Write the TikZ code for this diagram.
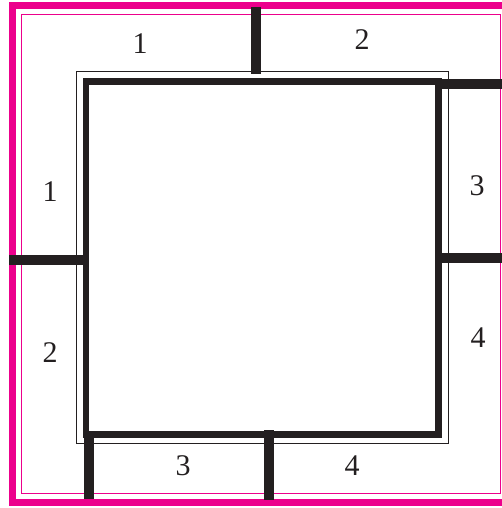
\documentclass[tikz,border=0pt]{standalone}
\usepackage{fontspec}
\setmainfont{Liberation Serif}
\definecolor{PlanMagenta}{HTML}{EC008C}
\definecolor{PlanBlack}{HTML}{231F20}

\begin{document}
\begin{tikzpicture}[x=1pt,y=-1pt]
  \tikzstyle{frame}=[draw=PlanMagenta,line width=7pt]
  \tikzstyle{border}=[draw=PlanMagenta,line width=1pt]
  \tikzstyle{outline}=[draw=PlanBlack,line width=1pt]
  \tikzstyle{wall}=[draw=PlanBlack,line width=6.7pt]
  \tikzstyle{stub}=[draw=PlanBlack,line width=10pt]
  \tikzstyle{num}=[font=\fontsize{30}{30}\selectfont,text=PlanBlack]
  \useasboundingbox (0,0) rectangle (502,508);
  \clip (0,0) rectangle (502,508);
  % frames
  \draw[frame] (12.5,5.5) rectangle (515,502.5);
  \draw[border] (21.5,15) rectangle (500,493);
  \draw[outline] (76.5,71.5) rectangle (448,443);
  \draw[wall] (86,81.3) rectangle (438.3,434.3);
  % stub ends
  \coordinate (t1) at (256,7);    \coordinate (t2) at (256,74);
  \coordinate (r1) at (436,84);   \coordinate (r2) at (502,84);
  \coordinate (m1) at (441,258);  \coordinate (m2) at (502,258);
  \coordinate (l1) at (9,260);    \coordinate (l2) at (83,260);
  \coordinate (b1) at (89,433);   \coordinate (b2) at (89,499);
  \coordinate (c1) at (268.5,430);\coordinate (c2) at (268.5,500);
  \draw[stub] (t1)--(t2);
  \draw[stub] (r1)--(r2);
  \draw[stub] (m1)--(m2);
  \draw[stub] (l1)--(l2);
  \draw[stub] (b1)--(b2);
  \draw[stub] (c1)--(c2);
  % labels
  \node[num] (n1) at (140,44) {1};
  \node[num] (n2) at (362,40) {2};
  \node[num] (w1) at (50,192) {1};
  \node[num] (w2) at (50,353) {2};
  \node[num] (e3) at (477,186) {3};
  \node[num] (e4) at (478,338) {4};
  \node[num] (s3) at (183,466) {3};
  \node[num] (s4) at (352,466) {4};
\end{tikzpicture}
\end{document}
